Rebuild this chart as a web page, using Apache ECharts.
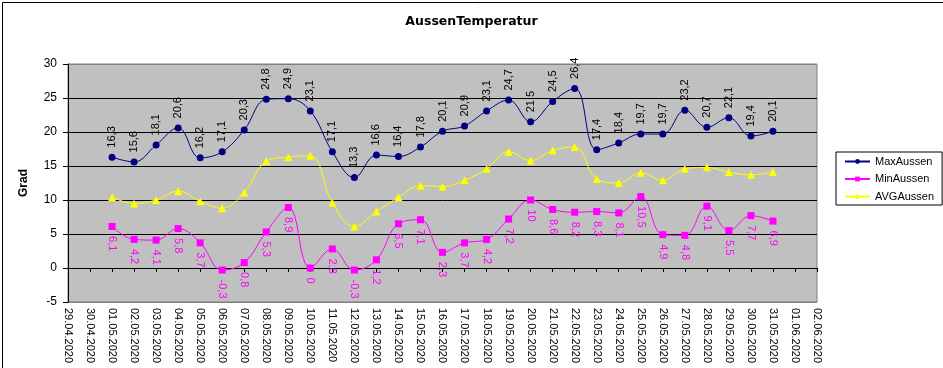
<!DOCTYPE html>
<html><head><meta charset="utf-8">
<script src="https://cdn.jsdelivr.net/npm/echarts@6/dist/echarts.min.js"></script>
<style>html,body{margin:0;padding:0;background:#fff}#c{width:943px;height:368px}</style>
</head><body><div id="c"></div>
<script>
const categories = ['29.04.2020','30.04.2020','01.05.2020','02.05.2020','03.05.2020','04.05.2020','05.05.2020','06.05.2020','07.05.2020','08.05.2020','09.05.2020','10.05.2020','11.05.2020','12.05.2020','13.05.2020','14.05.2020','15.05.2020','16.05.2020','17.05.2020','18.05.2020','19.05.2020','20.05.2020','21.05.2020','22.05.2020','23.05.2020','24.05.2020','25.05.2020','26.05.2020','27.05.2020','28.05.2020','29.05.2020','30.05.2020','31.05.2020','01.06.2020','02.06.2020'];
const maxAussen = [null,null,16.3,15.6,18.1,20.6,16.2,17.1,20.3,24.8,24.9,23.1,17.1,13.3,16.6,16.4,17.8,20.1,20.9,23.1,24.7,21.5,24.5,26.4,17.4,18.4,19.7,19.7,23.2,20.7,22.1,19.4,20.1,null,null];
const minAussen = [null,null,6.1,4.2,4.1,5.8,3.7,-0.3,0.8,5.3,8.9,0,2.8,-0.3,1.2,6.5,7.1,2.3,3.7,4.2,7.2,10,8.6,8.2,8.3,8.1,10.5,4.9,4.8,9.1,5.5,7.7,6.9,null,null];
const avgAussen = [null,null,10.4,9.5,10.0,11.3,9.8,8.8,11.1,15.7,16.3,16.5,9.6,6.1,8.3,10.4,12.1,12.0,12.9,14.6,17.1,15.8,17.3,17.8,13.1,12.5,14.0,12.9,14.6,14.8,14.1,13.7,14.1,null,null];
const yTicks = {min: -5, max: 30, interval: 5};

const FONT = 'Liberation Sans, Arial, sans-serif';
const fmt = p => String(p.value).replace('.', ',');
const chart = echarts.init(document.getElementById('c'), null, {renderer: 'canvas'});
chart.setOption({
  backgroundColor: '#fff',
  animation: false,
  title: {text: 'AussenTemperatur', left: 'center', top: 10,
    textStyle: {fontFamily: 'DejaVu Sans', fontWeight: 'bold', fontSize: 12.5, color: '#000'}},
  graphic: [{type: 'rect', left: 0, top: 0, z: 100, silent: true,
    shape: {x: 0.5, y: 0.5, width: 942, height: 367}, style: {fill: 'none', stroke: '#000', lineWidth: 1}}],
  legend: {orient: 'vertical', left: 836, top: 152,
    padding: [4, 8, 3, 8], itemGap: 6.5, itemWidth: 25, itemHeight: 6,
    borderColor: '#000', borderWidth: 1, borderRadius: 0, backgroundColor: '#fff',
    textStyle: {fontFamily: FONT, fontSize: 11, color: '#000'},
    data: ['MaxAussen', 'MinAussen', 'AVGAussen']},
  grid: {left: 68, right: 126, top: 64, bottom: 66, show: true,
    backgroundColor: '#c0c0c0', borderColor: '#808080', borderWidth: 1},
  xAxis: [{
    type: 'category', data: categories, boundaryGap: false, position: 'bottom',
    axisLine: {show: false, onZero: false}, axisTick: {show: false},
    axisLabel: {rotate: -90, interval: 0, margin: 6, fontFamily: FONT, fontSize: 11, color: '#000'},
    splitLine: {show: false}
  }, {
    type: 'category', data: categories, boundaryGap: false, position: 'bottom',
    axisLine: {show: true, onZero: true, lineStyle: {color: '#000', width: 1}},
    axisTick: {show: true, inside: false, length: 4, interval: 0, lineStyle: {color: '#000'}},
    axisLabel: {show: false}, splitLine: {show: false}
  }],
  yAxis: {
    type: 'value', min: yTicks.min, max: yTicks.max, interval: yTicks.interval,
    name: 'Grad', nameLocation: 'middle', nameRotate: 90, nameGap: 38,
    nameTextStyle: {fontFamily: FONT, fontSize: 12, fontWeight: 'bold', color: '#000'},
    axisLine: {show: true, lineStyle: {color: '#000'}},
    axisTick: {show: true, length: 5, lineStyle: {color: '#000'}},
    axisLabel: {margin: 11, fontFamily: FONT, fontSize: 12, color: '#000'},
    splitLine: {show: true, lineStyle: {color: ['#808080','#000','#000','#000','#000','#000','#000','#808080'], width: 1}}
  },
  series: [{
    name: 'MaxAussen', type: 'line', data: maxAussen, smooth: 0.4, xAxisIndex: 0,
    symbol: 'circle', symbolSize: 7, connectNulls: false,
    lineStyle: {color: '#000080', width: 1}, itemStyle: {color: '#000080'},
    label: {show: true, position: 'top', distance: 6, rotate: 90, align: 'left', verticalAlign: 'middle',
      formatter: fmt, fontFamily: FONT, fontSize: 11, color: '#000'}
  }, {
    name: 'MinAussen', type: 'line', data: minAussen, smooth: 0.4, xAxisIndex: 0,
    symbol: 'rect', symbolSize: 7,
    lineStyle: {color: '#ff00ff', width: 1}, itemStyle: {color: '#ff00ff'},
    label: {show: true, position: 'bottom', distance: 6, rotate: -90, align: 'left', verticalAlign: 'middle',
      formatter: fmt, fontFamily: FONT, fontSize: 11, color: '#ff00ff'}
  }, {
    name: 'AVGAussen', type: 'line', data: avgAussen, smooth: 0.4, xAxisIndex: 0,
    symbol: 'triangle', symbolSize: 8,
    lineStyle: {color: '#ffff00', width: 1}, itemStyle: {color: '#ffff00'}
  }]
});
</script></body></html>
